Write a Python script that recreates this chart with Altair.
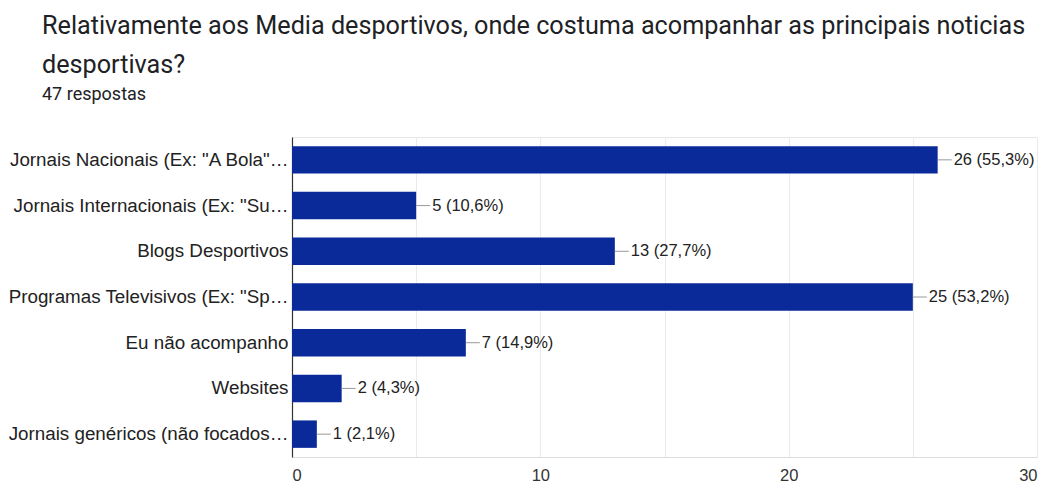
import altair as alt
import pandas as pd

categories = [
    'Jornais Nacionais (Ex: "A Bola"…',
    'Jornais Internacionais (Ex: "Su…',
    "Blogs Desportivos",
    'Programas Televisivos (Ex: "Sp…',
    "Eu não acompanho",
    "Websites",
    "Jornais genéricos (não focados…",
]
counts = [26, 5, 13, 25, 7, 2, 1]
total_responses = 47

labels = [f"{c} ({c / total_responses * 100:.1f}%)".replace(".", ",") for c in counts]
df = pd.DataFrame({"cat": categories, "n": counts, "label": labels})

BAR = "#0a2a9a"
TEXT = "#222222"

x_enc = alt.X(
    "n:Q",
    scale=alt.Scale(domain=[0, 30], nice=False),
    axis=alt.Axis(
        values=[0, 5, 10, 15, 20, 25, 30],
        labelExpr="datum.value % 10 == 0 ? datum.label : ''",
        title=None,
        grid=True,
        gridColor="#ebebeb",
        domain=True,
        domainColor="#dddddd",
        ticks=False,
        labelFont="Liberation Sans",
        labelFontSize=16.5,
        labelColor="#333333",
        labelPadding=10,
    ),
)
y_enc = alt.Y(
    "cat:N",
    sort=categories,
    scale=alt.Scale(paddingInner=0.4, paddingOuter=0.2),
    axis=alt.Axis(
        title=None,
        ticks=False,
        domain=True,
        domainColor="#333333",
        domainWidth=1.2,
        labelFont="Liberation Sans",
        labelFontSize=18.8,
        labelColor=TEXT,
        labelPadding=4,
        labelLimit=400,
    ),
)

base = alt.Chart(df)

bars = base.mark_bar(color=BAR).encode(x=x_enc, y=y_enc)

leaders = base.mark_rule(color="#999999", strokeWidth=1, x2Offset=14).encode(
    x="n:Q", x2="n:Q", y=alt.Y("cat:N", sort=categories, bandPosition=0.5)
)

values = base.mark_text(
    align="left", baseline="middle", dx=16, font="Liberation Sans", fontSize=16.5, color=TEXT
).encode(x="n:Q", y=alt.Y("cat:N", sort=categories, bandPosition=0.5), text="label:N")

chart = (
    alt.layer(bars, leaders, values)
    .properties(
        width=745,
        height=320,
        padding={"left": 292, "top": 137, "right": 12, "bottom": 30},
        autosize=alt.AutoSizeParams(type="none"),
        title=alt.TitleParams(
            text=[
                "Relativamente aos Media desportivos, onde costuma acompanhar as principais noticias",
                "desportivas?",
            ],
            subtitle="47 respostas",
            anchor="start",
            frame="group",
            dx=-250,
            offset=33,
            font="Roboto",
            fontSize=25.2,
            fontWeight="normal",
            lineHeight=39,
            color="#202124",
            subtitleFont="Roboto",
            subtitleFontSize=18,
            subtitleColor="#202124",
            subtitlePadding=8,
        ),
    )
    .configure_view(stroke="#e6e6e6")
)

chart.save("out.html", embed_options={"renderer": "svg", "actions": False})
